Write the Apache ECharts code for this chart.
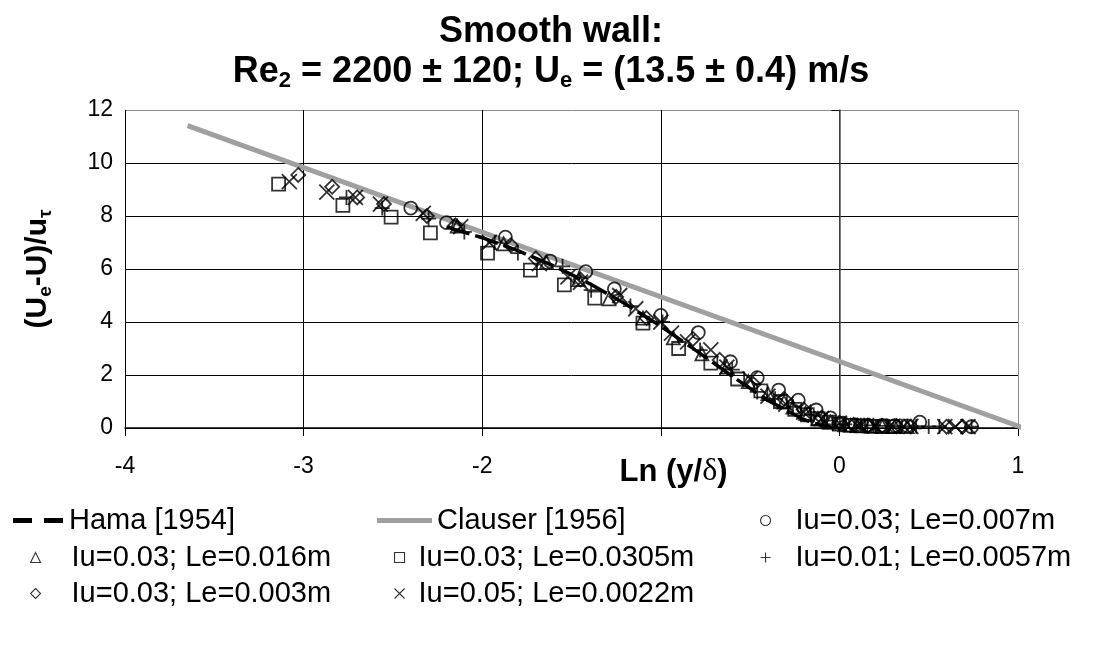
<!DOCTYPE html>
<html><head><meta charset="utf-8">
<script src="https://cdn.jsdelivr.net/npm/echarts@6/dist/echarts.min.js"></script>
<style>html,body{margin:0;padding:0;background:#fff}#c{width:1102px;height:646px}</style>
</head><body><div id="c"></div>
<script>
// ---- tick labels ----
const xTickLabels = ['-4','-3','-2','','0','1'];   // -1 is hidden behind the axis title
const yTickLabels = ['0','2','4','6','8','10','12'];

// ---- reference curves ----
const hamaX = [-2.2,-2.0,-1.8,-1.6,-1.4,-1.2,-1.0,-0.8,-0.6,-0.4,-0.2,-0.1,0.0];
const hamaY = [7.59,7.18,6.69,6.12,5.45,4.69,3.84,2.91,1.95,1.04,0.32,0.09,0.0];
const clauserX = [-3.65, 1.03];
const clauserY = [11.41, 0.0];

// ---- measurements ----
const circX = [-2.40,-2.20,-1.87,-1.62,-1.42,-1.26,-1.00,-0.79,-0.61,-0.46,-0.34,-0.23,-0.13,-0.05,0.02,0.09,0.16,0.24,0.31,0.38,0.45,0.74];
const circY = [8.30,7.75,7.20,6.30,5.90,5.25,4.25,3.60,2.50,1.90,1.43,1.05,0.68,0.38,0.18,0.12,0.10,0.10,0.09,0.08,0.22,0.05];

const triX = [-2.14,-1.88,-1.64,-1.46,-1.29,-1.10,-0.93,-0.77,-0.63,-0.51,-0.40,-0.31,-0.26,-0.19,-0.12,-0.05,0.03,0.10,0.17,0.24,0.31,0.38];
const triY = [7.62,6.95,6.25,5.60,4.87,4.15,3.40,2.80,2.30,1.75,1.30,0.98,0.79,0.55,0.35,0.22,0.12,0.09,0.08,0.07,0.06,0.05];

const sqX = [-3.14,-2.78,-2.51,-2.29,-1.97,-1.73,-1.54,-1.37,-1.10,-0.90,-0.72,-0.57,-0.44,-0.33,-0.25,-0.18,-0.12,-0.06,0.00,0.06,0.12,0.18,0.24,0.30];
const sqY = [9.20,8.40,7.96,7.36,6.60,5.96,5.40,4.90,3.96,3.00,2.45,1.85,1.40,1.00,0.70,0.50,0.35,0.22,0.15,0.10,0.08,0.06,0.05,0.05];

const plusX = [-2.76,-2.56,-2.30,-2.10,-1.93,-1.80,-1.55,-1.39,-1.17,-0.99,-0.78,-0.60,-0.46,-0.36,-0.26,-0.16,-0.07,0.03,0.12,0.19,0.27,0.35,0.43,0.50,0.56,0.74];
const plusY = [8.70,8.30,7.90,7.40,7.00,6.60,6.10,5.20,4.60,4.00,2.94,2.20,1.36,1.10,0.80,0.50,0.28,0.14,0.10,0.10,0.08,0.07,0.07,0.06,0.06,0.05];

const diaX = [-3.03,-2.84,-2.70,-2.55,-2.31,-2.15,-1.84,-1.70,-1.45,-1.25,-1.08,-0.82,-0.67,-0.48,-0.31,-0.20,-0.10,0.00,0.08,0.16,0.24,0.32,0.40,0.60,0.69];
const diaY = [9.55,9.10,8.70,8.45,8.00,7.65,6.90,6.40,5.60,4.95,4.15,3.36,2.57,1.65,1.10,0.70,0.40,0.20,0.12,0.09,0.08,0.07,0.06,0.05,0.05];

const crX = [-3.08,-2.87,-2.71,-2.57,-2.33,-2.12,-1.96,-1.68,-1.52,-1.45,-1.23,-1.14,-1.00,-0.94,-0.85,-0.72,-0.63,-0.50,-0.40,-0.30,-0.20,-0.10,0.00,0.10,0.20,0.30,0.40,0.59,0.65,0.72];
const crY = [9.30,8.90,8.70,8.45,8.10,7.60,7.00,6.20,5.70,5.50,5.00,4.50,4.00,3.58,3.25,2.95,2.30,1.85,1.20,0.90,0.60,0.35,0.18,0.10,0.08,0.07,0.06,0.05,0.05,0.05];

const names = {
  hama: 'Hama [1954]', clauser: 'Clauser [1956]',
  circ: 'Iu=0.03; Le=0.007m', tri: 'Iu=0.03; Le=0.016m', sq: 'Iu=0.03; Le=0.0305m',
  plus: 'Iu=0.01; Le=0.0057m', dia: 'Iu=0.03; Le=0.003m', cr: 'Iu=0.05; Le=0.0022m'
};

const zip = (xs, ys) => xs.map((x, i) => [x, ys[i]]);
const FONT = '"Liberation Sans", Arial, sans-serif';
const PLUS = 'path://M0,5L10,5M5,0L5,10';
const CROSS = 'path://M0,0L10,10M10,0L0,10';

function scatter(name, xs, ys, symbol, size) {
  return {
    type: 'scatter', name, data: zip(xs, ys), symbol, symbolSize: size, symbolKeepAspect: true,
    itemStyle: { color: 'rgba(0,0,0,0)', borderColor: '#000', borderWidth: 1.8 },
    emphasis: { disabled: true }, z: 3
  };
}

const legendFont = { fontFamily: FONT, fontSize: 29, color: '#000' };
function markerLegend(name, cx, cy, pad) {
  return {
    data: [name], left: cx - 5, top: cy - 16, itemWidth: 10, itemHeight: 10,
    selectedMode: false,
    itemStyle: { color: 'rgba(0,0,0,0)', borderColor: '#000', borderWidth: 1.1 },
    textStyle: Object.assign({ padding: [0, 0, 0, pad] }, legendFont)
  };
}

const chart = echarts.init(document.getElementById('c'));
chart.setOption({
  animation: false,
  backgroundColor: '#fff',
  title: {
    left: 'center', top: 7,
    text: 'Smooth wall:\n{n|Re}{s|2}{n| = 2200 ± 120; U}{s|e}{n| = (13.5 ± 0.4) m/s}',
    textStyle: {
      fontFamily: FONT, fontWeight: 'bold', fontSize: 36, color: '#000', lineHeight: 40,
      rich: {
        n: { fontFamily: FONT, fontWeight: 'bold', fontSize: 36, color: '#000', lineHeight: 40 },
        s: { fontFamily: FONT, fontWeight: 'bold', fontSize: 22, color: '#000', lineHeight: 18, verticalAlign: 'bottom' }
      }
    }
  },
  grid: { left: 125, right: 84, top: 110, bottom: 218, show: false },
  xAxis: {
    type: 'value', min: -4, max: 1, interval: 1,
    axisLine: { show: true, onZero: false, lineStyle: { color: '#000', width: 1.5 } },
    axisTick: { show: true, length: 8, inside: false, lineStyle: { color: '#000' } },
    axisLabel: {
      margin: 27, fontFamily: FONT, fontSize: 23, color: '#000',
      formatter: v => xTickLabels[Math.round(v) + 4]
    },
    splitLine: { show: true, lineStyle: { color: ['#000','#000','#000','#000','#000','#8c8c8c'], width: 1 } },
    name: '{b|Ln (y/}{d|δ}{b|)}',
    nameLocation: 'middle', nameGap: 28, nameMoveOverlap: false,
    nameTextStyle: {
      padding: [0, 0, 0, 204],
      rich: {
        b: { fontFamily: FONT, fontWeight: 'bold', fontSize: 31, color: '#000' },
        d: { fontFamily: '"Liberation Serif", serif', fontSize: 32, color: '#000' }
      }
    }
  },
  yAxis: {
    type: 'value', min: 0, max: 12, interval: 2,
    axisLine: { show: true, lineStyle: { color: '#555', width: 1.5 } },
    axisTick: { show: true, length: 8, lineStyle: { color: '#000' } },
    axisLabel: {
      margin: 12, fontFamily: FONT, fontSize: 23, color: '#000',
      formatter: v => yTickLabels[Math.round(v / 2)]
    },
    splitLine: { show: true, lineStyle: { color: ['#000','#000','#000','#000','#000','#000','#8c8c8c'], width: 1 } },
    name: '{n|(U}{s|e}{n|-U)/u}{s|τ}',
    nameLocation: 'middle', nameRotate: 90, nameGap: 70,
    nameTextStyle: {
      rich: {
        n: { fontFamily: FONT, fontWeight: 'bold', fontSize: 30, color: '#000', lineHeight: 34 },
        s: { fontFamily: FONT, fontWeight: 'bold', fontSize: 19, color: '#000', lineHeight: 15, verticalAlign: 'bottom' }
      }
    }
  },
  legend: [
    {
      data: [names.hama], left: 8, top: 517 - 16, itemWidth: 50, itemHeight: 5, selectedMode: false,
      icon: 'path://M0,0h19v5h-19zM31,0h19v5h-19z',
      itemStyle: { color: '#000', borderWidth: 0 },
      textStyle: Object.assign({ padding: [0, 0, 0, 1] }, legendFont)
    },
    {
      data: [names.clauser], left: 372, top: 517 - 16, itemWidth: 55, itemHeight: 5, selectedMode: false,
      icon: 'rect', itemStyle: { color: '#a0a0a0', borderWidth: 0 },
      textStyle: Object.assign({ padding: [0, 0, 0, 0] }, legendFont)
    },
    markerLegend(names.circ, 760, 517, 20),
    markerLegend(names.tri, 30, 554, 26),
    markerLegend(names.sq, 394, 554, 9),
    markerLegend(names.plus, 760, 554, 20),
    markerLegend(names.dia, 30, 590, 26),
    markerLegend(names.cr, 394, 590, 9)
  ],
  series: [
    {
      type: 'line', name: names.clauser, data: zip(clauserX, clauserY), symbol: 'none',
      lineStyle: { color: '#a0a0a0', width: 5 }, itemStyle: { color: '#a0a0a0' }, z: 2, silent: true
    },
    {
      type: 'line', name: names.hama, data: zip(hamaX, hamaY), symbol: 'none', smooth: false,
      lineStyle: { color: '#000', width: 3.5, type: [24, 6] }, itemStyle: { color: '#000' }, z: 2, silent: true
    },
    scatter(names.circ, circX, circY, 'circle', 13),
    scatter(names.tri, triX, triY, 'triangle', 13),
    scatter(names.sq, sqX, sqY, 'rect', 13),
    scatter(names.plus, plusX, plusY, PLUS, 15),
    scatter(names.dia, diaX, diaY, 'diamond', 14),
    scatter(names.cr, crX, crY, CROSS, 15)
  ]
});
</script>
</body></html>
